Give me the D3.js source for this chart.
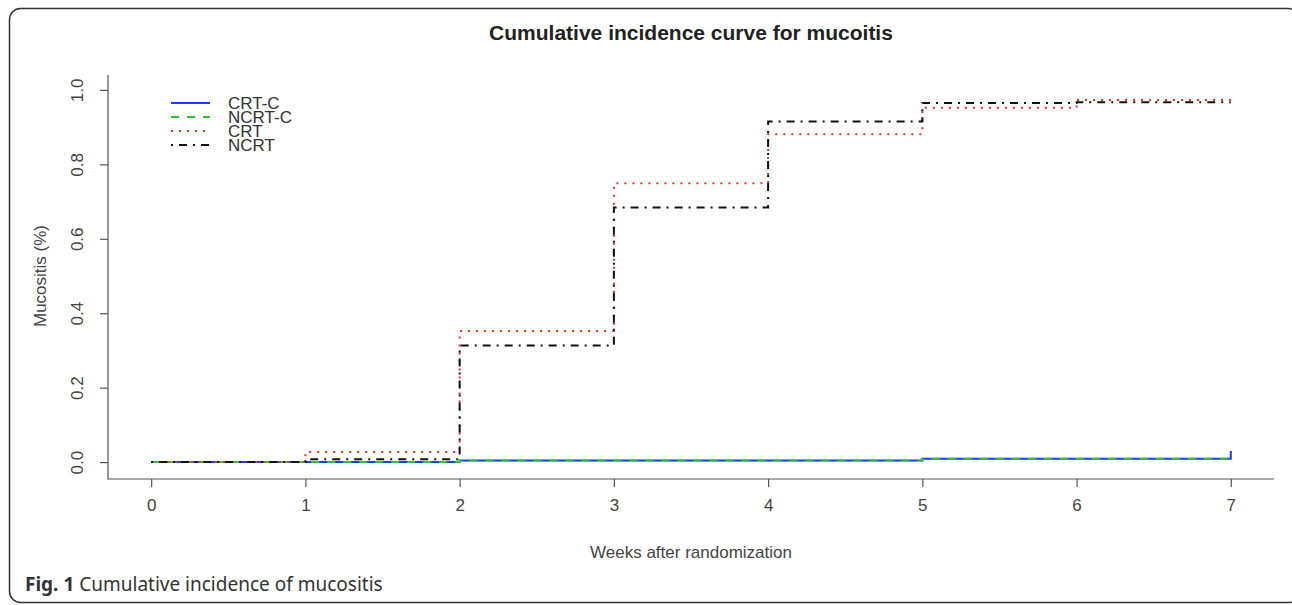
<!DOCTYPE html>
<html lang="en">
<head>
    <meta charset="UTF-8">
    <title>Cumulative incidence curve for mucoitis</title>
    <script src="https://d3js.org/d3.v7.min.js"></script>
    <style>
        body { margin: 0; background: #fff; }
    </style>
</head>
<body>
    <svg id="chart" width="1292" height="605"></svg>

    <script>
        // weeks after randomization and cumulative incidence per group
        const weeks = [0, 1, 2, 3, 4, 5, 6, 7];
        const crtC  = [0, 0, 0.004, 0.004, 0.004, 0.009, 0.009, 0.03];
        const ncrtC = [0, 0, 0.004, 0.004, 0.004, 0.009, 0.009, 0.009];
        const crt   = [0, 0.027, 0.352, 0.749, 0.881, 0.952, 0.973, 0.973];
        const ncrt  = [0, 0.008, 0.313, 0.684, 0.915, 0.965, 0.967, 0.967];
        const yTicks = [0, 0.2, 0.4, 0.6, 0.8, 1.0];
        const groups = ["CRT-C", "NCRT-C", "CRT", "NCRT"];

        const series = [
            {name: "CRT-C",  values: crtC,  color: "#1a3cff", dash: null},
            {name: "NCRT-C", values: ncrtC, color: "#2ec52e", dash: "8,8"},
            {name: "CRT",    values: crt,   color: "#ff2a1a", dash: "2,6"},
            {name: "NCRT",   values: ncrt,  color: "#111111", dash: "2,6,8,6"}
        ];

        const svg = d3.select("#chart");
        const font = "'Liberation Sans', Arial, sans-serif";

        // figure frame
        svg.append("rect")
            .attr("x", 9.5).attr("y", 8.5)
            .attr("width", 1290).attr("height", 594)
            .attr("rx", 11)
            .attr("fill", "white")
            .attr("stroke", "#333")
            .attr("stroke-width", 1.5);

        // plot region (R style 4% expansion)
        const x = d3.scaleLinear().domain([-0.28, 7.28]).range([108, 1274]);
        const y = d3.scaleLinear().domain([-0.04, 1.04]).range([477, 75]);

        // L-shaped box
        svg.append("path")
            .attr("d", `M${x.range()[0]},${y.range()[1]}V${y.range()[0] + 2}H${x.range()[1]}`)
            .attr("fill", "none")
            .attr("stroke", "#555")
            .attr("stroke-width", 1.2);

        const xAxis = svg.append("g")
            .attr("transform", `translate(0,${y.range()[0] + 2})`)
            .call(d3.axisBottom(x).tickValues(weeks).tickSize(8).tickPadding(12).tickFormat(d3.format("d")));
        xAxis.select(".domain").remove();
        xAxis.selectAll("line").attr("stroke", "#555").attr("stroke-width", 1.2);
        xAxis.selectAll("text").attr("font-family", font).attr("font-size", 17).attr("fill", "#444");

        const yAxis = svg.append("g")
            .attr("transform", `translate(${x.range()[0]},0)`)
            .call(d3.axisLeft(y).tickValues(yTicks).tickSize(8).tickFormat(d3.format(".1f")));
        yAxis.select(".domain").remove();
        yAxis.selectAll("line").attr("stroke", "#555").attr("stroke-width", 1.2);
        yAxis.selectAll("text")
            .attr("font-family", font).attr("font-size", 17).attr("fill", "#444")
            .attr("text-anchor", "middle")
            .attr("x", 0).attr("dy", 0)
            .attr("transform", "translate(-31,0) rotate(-90)")
            .attr("dominant-baseline", "central");

        // step curves
        const line = d3.line()
            .x((d, i) => x(weeks[i]))
            .y(d => y(d))
            .curve(d3.curveStepAfter);

        svg.append("g").selectAll("path")
            .data(series)
            .enter().append("path")
            .attr("d", d => line(d.values))
            .attr("fill", "none")
            .attr("stroke", d => d.color)
            .attr("stroke-width", 2)
            .attr("stroke-dasharray", d => d.dash);

        // legend
        const legend = svg.append("g")
            .selectAll("g")
            .data(series)
            .enter().append("g")
            .attr("transform", (d, i) => `translate(171,${103 + i * 14})`);
        legend.append("line")
            .attr("x1", 0).attr("x2", 39)
            .attr("stroke", d => d.color)
            .attr("stroke-width", 2)
            .attr("stroke-dasharray", d => d.dash);
        legend.append("text")
            .attr("x", 57).attr("dy", "0.36em")
            .attr("font-family", font).attr("font-size", 17)
            .attr("fill", "#333")
            .text((d, i) => groups[i]);

        // titles
        svg.append("text")
            .attr("x", 691).attr("y", 40)
            .attr("text-anchor", "middle")
            .attr("font-family", font).attr("font-size", 21).attr("font-weight", "bold")
            .attr("fill", "#222")
            .text("Cumulative incidence curve for mucoitis");

        svg.append("text")
            .attr("x", 691).attr("y", 558)
            .attr("text-anchor", "middle")
            .attr("font-family", font).attr("font-size", 17)
            .attr("fill", "#444")
            .text("Weeks after randomization");

        svg.append("text")
            .attr("transform", `translate(40,${y(0.5)}) rotate(-90)`)
            .attr("text-anchor", "middle")
            .attr("dominant-baseline", "central")
            .attr("font-family", font).attr("font-size", 17)
            .attr("fill", "#444")
            .text("Mucositis (%)");

        // figure caption
        const cap = svg.append("text")
            .attr("x", 25).attr("y", 591)
            .attr("font-family", "'Noto Sans', 'Open Sans', sans-serif")
            .attr("font-size", 19)
            .attr("fill", "#333");
        cap.append("tspan").attr("font-weight", "bold").text("Fig. 1");
        cap.append("tspan").text(" Cumulative incidence of mucositis");
    </script>
</body>
</html>
